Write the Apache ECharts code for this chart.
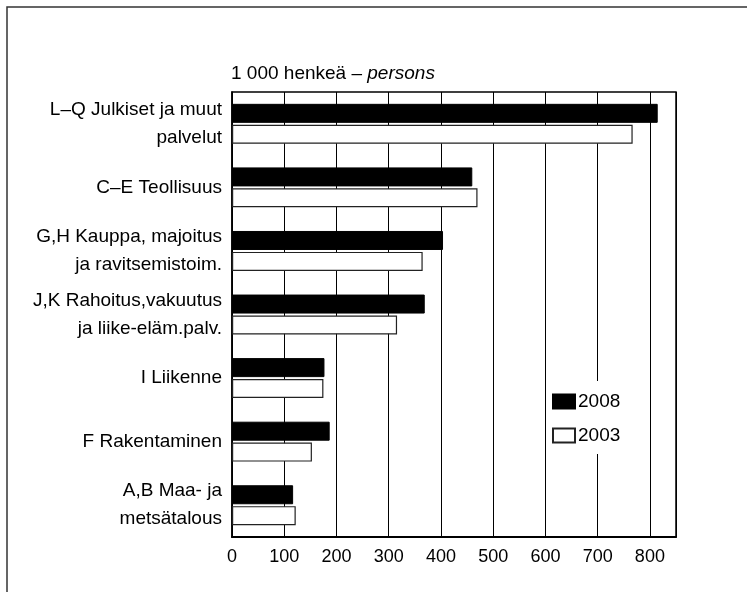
<!DOCTYPE html>
<html>
<head>
<meta charset="utf-8">
<script src="https://cdn.jsdelivr.net/npm/echarts@6/dist/echarts.min.js"></script>
<style>
  html, body { margin: 0; padding: 0; background: #fff; }
  #chart { width: 747px; height: 592px; }
</style>
</head>
<body>
<div id="chart"></div>
<script>
// toimialat, ylhäältä alas
var categories = [
  'L\u2013Q Julkiset ja muut\npalvelut',
  'C\u2013E Teollisuus',
  'G,H Kauppa, majoitus\nja ravitsemistoim.',
  'J,K Rahoitus,vakuutus\nja liike-el\u00e4m.palv.',
  'I Liikenne',
  'F Rakentaminen',
  'A,B Maa- ja\nmets\u00e4talous'
]
var values2008 = [815, 460, 404, 369, 177, 187, 117]
var values2003 = [767, 470, 365, 316, 175, 153, 122]
var xTicks = [0, 100, 200, 300, 400, 500, 600, 700, 800]

var font = 'Liberation Sans, Arial, sans-serif'

var chart = echarts.init(document.getElementById('chart'))
chart.setOption({
  animation: false,
  backgroundColor: '#fff',
  textStyle: { fontFamily: font, color: '#000' },
  title: {
    text: '{n|1 000 henke\u00e4 \u2013 }{i|persons}',
    left: 231,
    top: 64,
    padding: 0,
    textStyle: {
      fontWeight: 'normal',
      rich: {
        n: { fontFamily: font, fontSize: 19, color: '#000', fontWeight: 'normal' },
        i: { fontFamily: font, fontSize: 19, color: '#000', fontWeight: 'normal', fontStyle: 'italic' }
      }
    }
  },
  legend: {
    data: ['2008', '2003'],
    orient: 'vertical',
    left: 548,
    top: 381,
    padding: [11, 22, 9, 4],
    backgroundColor: '#fff',
    itemWidth: 22,
    itemHeight: 14,
    itemGap: 15,
    icon: 'rect',
    textStyle: { fontFamily: font, fontSize: 19, color: '#000', padding: [0, 0, 0, -2] }
  },
  grid: {
    left: 232,
    top: 92,
    right: 71,
    bottom: 55,
    show: true,
    borderColor: '#000',
    borderWidth: 1.5
  },
  xAxis: {
    type: 'value',
    min: 0,
    max: 850,
    interval: 100,
    axisLine: { show: true, lineStyle: { color: '#000', width: 2 } },
    axisTick: { show: false },
    axisLabel: {
      fontFamily: font,
      fontSize: 18,
      color: '#000',
      margin: 11,
      showMaxLabel: false,
      formatter: function (v) { return xTicks.indexOf(v) >= 0 ? String(v) : '' }
    },
    splitLine: { show: true, lineStyle: { color: '#000', width: 1 } }
  },
  yAxis: {
    type: 'category',
    data: categories,
    inverse: true,
    axisLine: { show: true, lineStyle: { color: '#000', width: 1.5 } },
    axisTick: { show: false },
    axisLabel: {
      fontFamily: font,
      fontSize: 19,
      color: '#000',
      lineHeight: 28,
      margin: 10,
      align: 'right'
    }
  },
  series: [
    {
      name: '2008',
      type: 'bar',
      data: values2008,
      barWidth: 19,
      barGap: '10%',
      itemStyle: { color: '#000', borderColor: '#000', borderWidth: 1 }
    },
    {
      name: '2003',
      type: 'bar',
      data: values2003,
      barWidth: 19,
      barGap: '10%',
      itemStyle: { color: '#fff', borderColor: '#222', borderWidth: 1.2 }
    }
  ],
  graphic: [
    {
      type: 'polyline',
      shape: { points: [[7, 592], [7, 7], [747, 7]] },
      style: { stroke: '#333', lineWidth: 1.5, fill: null }
    }
  ]
})
</script>
</body>
</html>
